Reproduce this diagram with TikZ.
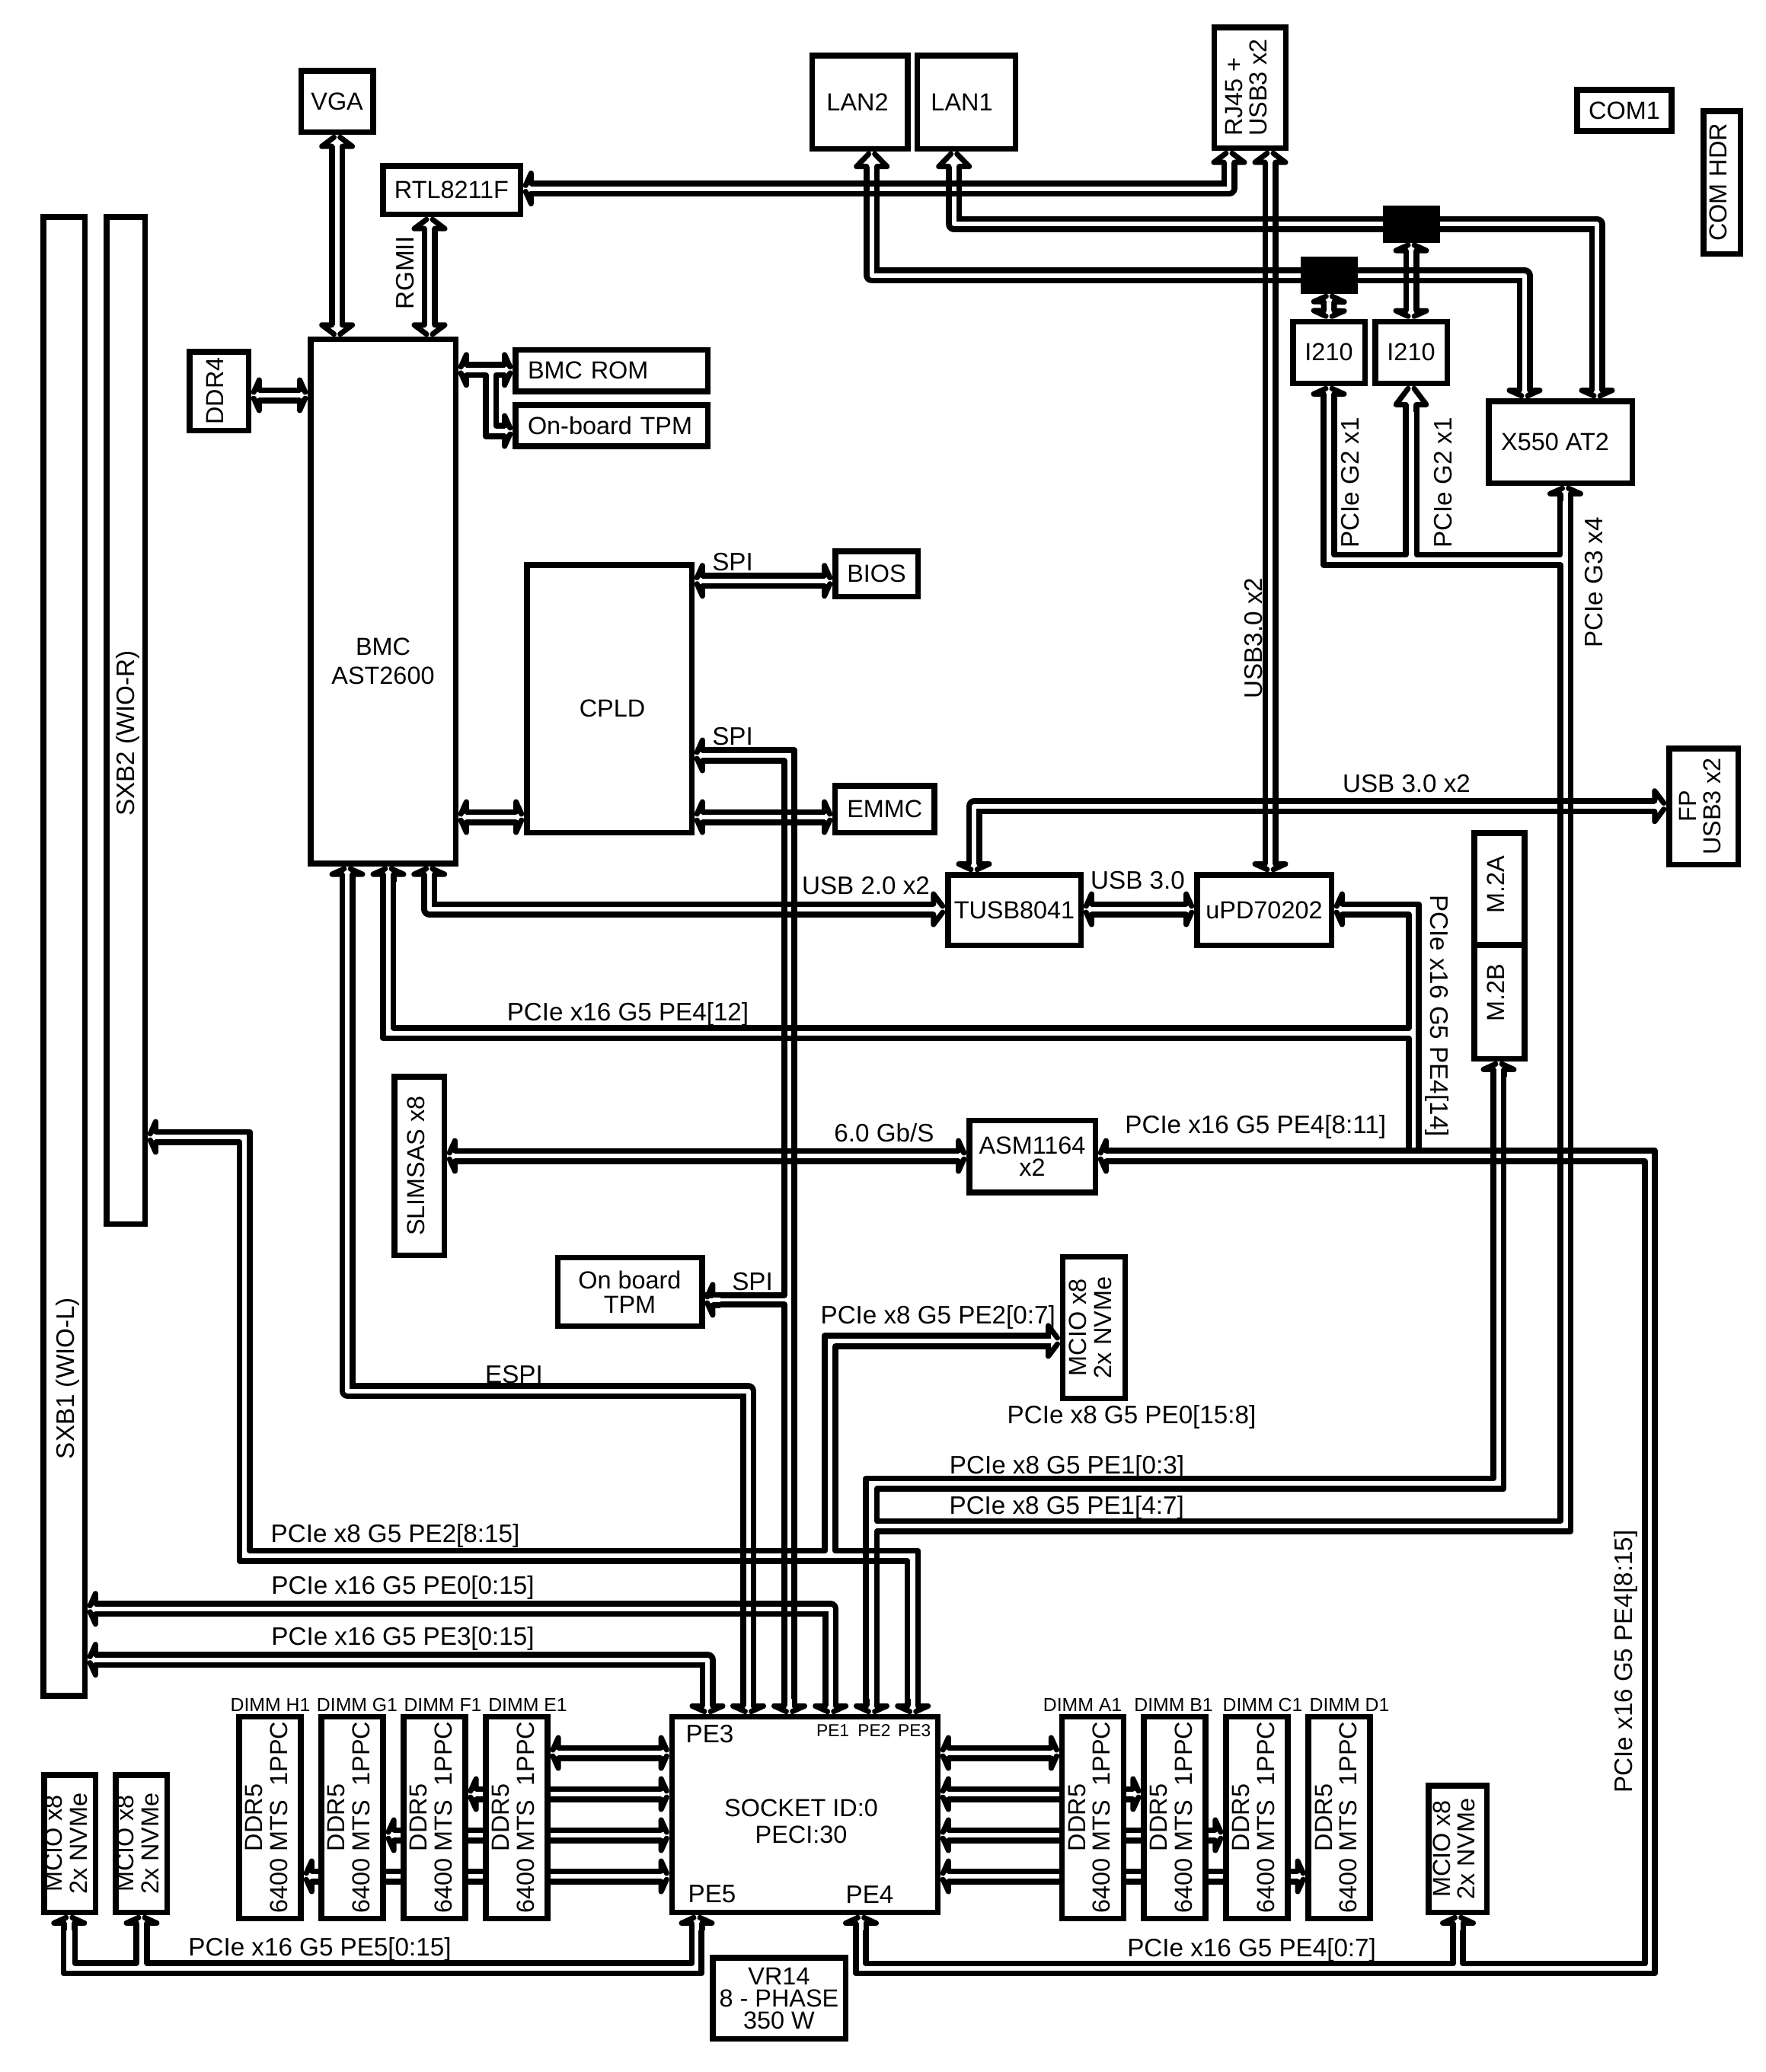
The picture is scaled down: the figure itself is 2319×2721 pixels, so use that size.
\documentclass[tikz,border=0pt]{standalone}
\usepackage{fontspec}
\setmainfont{Liberation Sans}
\usepackage{tikz}
\usetikzlibrary{arrows.meta, backgrounds}

\pgfdeclarearrow{
  name=Chevron,
  defaults={length=2.6pt, width=10pt, line width=1.75pt},
  parameters={\the\pgfarrowlength,\the\pgfarrowwidth,\the\pgfarrowlinewidth},
  setup code={
    \pgfarrowssettipend{0pt}
    \pgfarrowssetlineend{-\pgfarrowlength}
    \pgfarrowssetbackend{-\pgfarrowlength}
    \pgfarrowssetvisualbackend{-\pgfarrowlength}
    \pgfarrowshullpoint{0pt}{0pt}
    \pgfarrowsupperhullpoint{-\pgfarrowlength}{.5\pgfarrowwidth}
    \pgfarrowssavethe\pgfarrowlength
    \pgfarrowssavethe\pgfarrowwidth
    \pgfarrowssavethe\pgfarrowlinewidth
  },
  drawing code={
    \pgfsetdash{}{0pt}
    \pgfsetroundcap
    \pgfsetroundjoin
    \pgfsetlinewidth{\pgfarrowlinewidth}
    \pgfsetinnerlinewidth{0pt}
    \pgfpathmoveto{\pgfqpoint{-\pgfarrowlength}{1.7pt}}
    \pgfpathlineto{\pgfqpoint{-\pgfarrowlength}{.5\pgfarrowwidth}}
    \pgfpathlineto{\pgfqpoint{-.8pt}{1pt}}
    \pgfpathmoveto{\pgfqpoint{-\pgfarrowlength}{-1.7pt}}
    \pgfpathlineto{\pgfqpoint{-\pgfarrowlength}{-.5\pgfarrowwidth}}
    \pgfpathlineto{\pgfqpoint{-.8pt}{-1pt}}
    \pgfusepathqstroke
  },
}

\tikzset{
  bs/.tip={Chevron[length=2.6pt]},
  bm/.tip={Chevron[length=3.8pt]},
  bl/.tip={Chevron[length=4.9pt]},
  bx/.tip={Chevron[length=6.1pt]},
  block/.style={draw, fill=white, line width=1.875pt, inner sep=0pt, align=center,
    font=\fontsize{8.1pt}{8pt}\selectfont},
  box/.style 2 args={minimum width=(#1-7.5)*0.25pt, minimum height=(#2-7.5)*0.25pt},
  lab/.style={inner sep=0pt, align=center, font=\fontsize{8.3pt}{8pt}\selectfont},
  tiny/.style={inner sep=0pt, font=\fontsize{6.2pt}{7pt}\selectfont},
  bus/.style={line width=1.875pt, double, double distance=1.5pt, line join=round},
  rail/.style={line width=1.875pt, line join=round},
  railb/.style={rail, shorten <=3pt, shorten >=3pt},
}
\newcommand{\vtext}[1]{\rotatebox{90}{\begin{tabular}{@{}c@{}}#1\end{tabular}}}
\newcommand{\vtextl}[1]{\rotatebox{90}{\begin{tabular}{@{}l@{}}#1\end{tabular}}}

\begin{document}
\begin{tikzpicture}[x=0.25pt, y=-0.25pt]
\useasboundingbox (0,0) rectangle (2319,2721);
% top row
\node[block, box={102}{88}] (vga) at (442.6,133) {VGA};
\node[block, box={188}{71}] (rtl) at (593,249.5) {RTL8211F};
\node[block, box={133}{130}] (lan2) at (1129,134) {LAN2\hspace{1.5pt}};
\node[block, box={136.7}{130}] (lan1) at (1269,134) {LAN1\hspace{3pt}};
\node[block, box={101.4}{166}] (rj) at (1641.3,115) {\vtextl{RJ45 +\\USB3 x2}};
\node[block, box={131.7}{61.5}] (com1) at (2133,145) {COM1};
\node[block, box={56}{195}] (comhdr) at (2261,239.5) {\vtext{COM HDR}};
\node[draw, fill=black, line width=1.875pt, box={75}{48.6}] (switcha) at (1853,294.3) {};
\node[draw, fill=black, line width=1.875pt, box={75.4}{48.5}] (switchb) at (1745.3,361.7) {};
\node[block, box={102}{88.5}] (i210a) at (1745,462.75) {I210};
\node[block, box={102}{88.5}] (i210b) at (1853,462.75) {I210};
\node[block, box={196}{115}] (x550) at (2049,580.5) {X550 AT2\hspace{3.5pt}};
% BMC side
\node[block, box={198}{695.7}] (bmc) at (503,789.8) {};
\node[lab, font=\fontsize{8.1pt}{9.5pt}\selectfont] (bmclab) at (503,868) {BMC\\AST2600};
\node[block, box={260}{62}, text width=55pt, align=left] (rom) at (803,486.5) {BMC ROM};
\node[block, box={260}{61.5}, text width=55pt, align=left] (obtpm) at (803,558.75) {On-board TPM};
\node[block, box={85}{111}] (ddr4) at (287.5,513.5) {\vtext{DDR4}};
\node[block, box={224}{359}] (cpld) at (800,917.5) {};
\node[lab, font=\fontsize{8.1pt}{8pt}\selectfont] (cpldlab) at (804,930) {CPLD};
\node[block, box={116}{67}] (bios) at (1151,753.5) {BIOS};
\node[block, box={137.7}{69}] (emmc) at (1161.8,1062.5) {EMMC};
% USB, storage
\node[block, box={182}{100}] (tusb) at (1332,1195) {TUSB8041};
\node[block, box={184}{100}] (upd) at (1660,1195) {uPD70202};
\node[block, box={73.5}{155}] (mtwoa) at (1969,1167.5) {\vtext{\hspace{3pt}M.2A}};
\node[block, box={73.5}{157}] (mtwob) at (1969,1315.5) {\vtext{\hspace{6pt}M.2B}};
\node[block, box={98}{160}] (fp) at (2237,1059) {\vtext{FP\\USB3 x2}};
\node[block, box={73}{242}] (slimsas) at (550.5,1531) {\vtext{SLIMSAS x8}};
\node[block, box={173}{102}] (asm) at (1355.5,1518.5) {ASM1164\\[-.75pt]x2\hspace{10pt}};
\node[block, box={197}{97.3}] (tpm) at (827,1696.4) {On board\\TPM};
\node[block, box={89.3}{193.3}] (mcioa) at (1436.4,1743.4) {\vtext{MCIO x8\\2x NVMe}};
% risers
\node[block, box={62}{1949.7}] (sxbl) at (84,1255.9) {};
\node[block, box={58}{1330}] (sxbr) at (165,946) {};
\node[lab, rotate=90] (sxbllab) at (89,1810) {SXB1 (WIO-L)};
\node[lab, rotate=90] (sxbrlab) at (168,963) {SXB2 (WIO-R)};
% socket
\node[block, box={356.4}{264.3}] (socket) at (1056.8,2382.9) {};
\node[lab, font=\fontsize{8.1pt}{8.75pt}\selectfont] (socketlab) at (1052,2392) {SOCKET ID:0\\PECI:30};
\node[block, box={182}{114}] (vr) at (1023,2624) {VR14\\[-.75pt]8 - PHASE\\[-.75pt]350 W};
\node[lab] (pethree) at (932,2277) {PE3};
\node[lab] (pefive) at (935,2487.5) {PE5};
\node[lab] (pefour) at (1142,2488) {PE4};
\node[tiny, font=\fontsize{5.7pt}{7pt}\selectfont] (peone) at (1093.6,2273) {PE1};
\node[tiny, font=\fontsize{5.7pt}{7pt}\selectfont] (petwo) at (1148,2273) {PE2};
\node[tiny, font=\fontsize{5.7pt}{7pt}\selectfont] (pethreeb) at (1200.7,2273) {PE3};
% memory
\foreach \name/\x/\lx/\lab in {dimmh/354.7/355/H1, dimmg/462.5/469/G1, dimmf/570.5/581.5/F1, dimme/678.5/693/E1, dimma/1435/1421.6/A1, dimmb/1542.5/1541/B1, dimmc/1650.5/1658/C1, dimmd/1758.7/1772/D1} {
  \node[block, box={88.5}{272.3}] (\name) at (\x,2386.9) {\vtext{DDR5\\6400 MTS~~1PPC}};
  \node[tiny] (\name lab) at (\lx,2239) {DIMM \lab};
}
\node[block, box={75}{188}] (mciob) at (91.5,2421) {\vtext{MCIO x8\\2x NVMe}};
\node[block, box={75}{188}] (mcioc) at (185.5,2421) {\vtext{MCIO x8\\2x NVMe}};
\node[block, box={84}{174}] (mciod) at (1914,2428) {\vtext{MCIO x8\\2x NVMe}};
% bus labels
\node[lab, rotate=90] (rgmii) at (532,358.7) {RGMII};
\node[lab, rotate=90] (gtwoa) at (1773,634) {PCIe G2 x1};
\node[lab, rotate=90] (gtwob) at (1895,634) {PCIe G2 x1};
\node[lab, rotate=90] (gthree) at (2093,765) {PCIe G3 x4};
\node[lab, rotate=90] (usbv) at (1645.6,838) {USB3.0 x2};
\node[lab] (usbh) at (1847,1028.7) {USB 3.0 x2};
\node[lab] (usbthree) at (1494,1156) {USB 3.0};
\node[lab] (usbtwo) at (1137,1163) {USB 2.0 x2};
\node[lab] (spia) at (962,738) {SPI};
\node[lab] (spib) at (962,967) {SPI};
\node[lab] (spic) at (988,1682.7) {SPI};
\node[lab] (espi) at (675,1805) {ESPI};
\node[lab, rotate=-90] (pefourv) at (1886.6,1334) {PCIe x16 G5 PE4[14]};
\node[lab] (pefourh) at (824.5,1332) {PCIe x16 G5 PE4[12]};
\node[lab] (pefourm) at (1648.7,1480) {PCIe x16 G5 PE4[8:11]};
\node[lab] (gbps) at (1161,1487.6) {6.0 Gb/S};
\node[lab] (petwoa) at (1231.7,1730) {PCIe x8 G5 PE2[0:7]};
\node[lab] (pezerob) at (1486,1861) {PCIe x8 G5 PE0[15:8]};
\node[lab] (peonea) at (1401,1927) {PCIe x8 G5 PE1[0:3]};
\node[lab] (peoneb) at (1400.7,1979.5) {PCIe x8 G5 PE1[4:7]};
\node[lab] (petwob) at (519,2017) {PCIe x8 G5 PE2[8:15]};
\node[lab] (pezero) at (529,2085) {PCIe x16 G5 PE0[0:15]};
\node[lab] (pethreeh) at (529,2152) {PCIe x16 G5 PE3[0:15]};
\node[lab] (pefiveh) at (420,2560) {PCIe x16 G5 PE5[0:15]};
\node[lab] (pefourb) at (1643.6,2560.5) {PCIe x16 G5 PE4[0:7]};
\node[lab, rotate=90] (pefourr) at (2135,2182) {PCIe x16 G5 PE4[8:15]};

\begin{pgfonlayer}{background}
% plain buses
\draw[bus,bm-bm] (vga.south) -- (442.6,0 |- bmc.north);
\draw[bus,bm-bm] (564,0 |- rtl.south) -- (564,0 |- bmc.north);
\draw[bus,bs-bm] (rtl.east |- 0,247.5) -| (1614,0 |- rj.south);
\draw[bus,bm-bs] (1668,0 |- rj.south) -- (1668,0 |- upd.north);
\draw[bus,bl-bs] (1144.7,0 |- lan2.south) |- (2002,361.7) -- (2002,0 |- x550.north);
\draw[bus,bl-bs] (1252.7,0 |- lan1.south) |- (2097,294.3) -- (2097,0 |- x550.north);
\draw[bus,bs-bs] (switcha.south) -- (i210b.north);
\draw[bus,bs-bs] (switchb.south) -- (i210a.north);
\draw[bus,bs-bs] (ddr4.east |- 0,519) -- (bmc.west |- 0,519);
\draw[bus,bs-bs] (cpld.east |- 0,762.7) -- (bios.west |- 0,762.7);
\draw[bus,bs-bs] (cpld.east |- 0,1073) -- (emmc.west |- 0,1073);
\draw[bus,bs-bs] (bmc.east |- 0,1073) -- (cpld.west |- 0,1073);
\draw[bus,bs-bm] (563.7,0 |- bmc.south) |- (tusb.west |- 0,1194);
\draw[bus,bs-bs] (tusb.east |- 0,1194) -- (upd.west |- 0,1194);
\draw[bus,bs-bm] (1279,0 |- tusb.north) |- (fp.west |- 0,1058.7);
\draw[bus,bs-bs] (456,0 |- bmc.south) |- (982.5,1826.5) -- (982.5,0 |- socket.north);
\draw[bus,bs-bs] (slimsas.east |- 0,1518) -- (asm.west |- 0,1518);
\draw[bus,bs-bs] (sxbl.east |- 0,2112.7) -| (1090.7,0 |- socket.north);
\draw[bus,bs-bs] (sxbl.east |- 0,2179.5) -| (929,0 |- socket.north);
% crossings of two buses show all four lines
\foreach \x/\y in {1668/294.3, 1668/361.7, 1668/1058.7, 1144.7/247.5, 1252.7/247.5, 1853/361.7, 982.5/2112.7} {
  \draw[rail] (\x-11,\y-6.75) -- (\x+11,\y-6.75) (\x-11,\y+6.75) -- (\x+11,\y+6.75);
  \draw[rail] (\x-6.75,\y-11) -- (\x-6.75,\y+11) (\x+6.75,\y-11) -- (\x+6.75,\y+11);
}
% memory channels
\foreach \name/\y in {dimme/2302, dimmf/2356, dimmg/2410, dimmh/2464} {
  \draw[bus,bs-bs] (socket.west |- 0,\y) -- (\name.east |- 0,\y);
}
\foreach \name/\y in {dimma/2302, dimmb/2356, dimmc/2410, dimmd/2464} {
  \draw[bus,bs-bs] (socket.east |- 0,\y) -- (\name.west |- 0,\y);
}
% BMC ROM / TPM split
\draw[railb] (bmc.east |- 0,479) -- (rom.west |- 0,479);
\draw[railb] (bmc.east |- 0,492.6) -| (638,573) -- (obtpm.west |- 0,573);
\draw[railb] (rom.west |- 0,492.6) -| (651.7,559) -- (obtpm.west |- 0,559);
\draw[bus,bs-] (bmc.east |- 0,485.8) -- ++(20,0);
\draw[bus,bs-] (rom.west |- 0,485.8) -- ++(-20,0);
\draw[bus,bs-] (obtpm.west |- 0,566) -- ++(-20,0);
% SPI to CPLD and TPM
\draw[railb] (cpld.east |- 0,985) -| (1043,0 |- socket.north);
\draw[rail, shorten <=3pt] (cpld.east |- 0,999) -| (1030,1701) -- (tpm.east |- 0,1701);
\draw[railb] (tpm.east |- 0,1713) -| (1030,0 |- socket.north);
\draw[bus,bs-] (cpld.east |- 0,992) -- ++(20,0);
\draw[bus,bs-] (tpm.east |- 0,1707) -- ++(20,0);
\draw[bus,bs-] (1036.5,0 |- socket.north) -- ++(0,-20);
% PE4 to BMC, uPD and ASM
\draw[railb] (516.7,0 |- bmc.south) |- (1850,1350) -- (1850,1201) -- (upd.east |- 0,1201);
\draw[rail, shorten <=3pt] (503,0 |- bmc.south) |- (1850,1363.6) -- (1850,1511);
\draw[rail, shorten <=3pt] (upd.east |- 0,1187.5) -| (1863,1511);
\draw[bus,bs-] (510,0 |- bmc.south) -- ++(0,20);
\draw[bus,bs-] (upd.east |- 0,1194) -- ++(20,0);
\draw[railb] (1921,0 |- mciod.south) |- (2160,2578.7) -- (2160,1525) -- (asm.east |- 0,1525);
\draw[railb] (asm.east |- 0,1511) -| (2173,2591.5) -| (1124,0 |- socket.south);
\draw[railb] (1137,0 |- socket.south) |- (1908,2578.7) -- (1908,0 |- mciod.south);
\draw[bus,bs-] (asm.east |- 0,1518) -- ++(20,0);
\draw[bus,bs-] (1130.5,0 |- socket.south) -- ++(0,20);
\draw[bus,bs-] (1914.5,0 |- mciod.south) -- ++(0,20);
% PE5
\draw[railb] (83.3,0 |- mciob.south) |- (921,2591.7) -- (921,0 |- socket.south);
\draw[railb] (98.3,0 |- mciob.south) |- (179,2578) -- (179,0 |- mcioc.south);
\draw[railb] (193,0 |- mcioc.south) |- (908.7,2578) -- (908.7,0 |- socket.south);
\draw[bus,bs-] (90.8,0 |- mciob.south) -- ++(0,20);
\draw[bus,bs-] (186,0 |- mcioc.south) -- ++(0,20);
\draw[bus,bs-] (915,0 |- socket.south) -- ++(0,20);
% PE2
\draw[railb] (mcioa.west |- 0,1754) -- (1083,1754) -- (1083,2036.7) -- (328,2036.7) -- (328,1486.5) -- (sxbr.east |- 0,1486.5);
\draw[railb] (mcioa.west |- 0,1768) -- (1097,1768) -- (1097,2036.7) -- (1205.7,2036.7) -- (1205.7,0 |- socket.north);
\draw[railb] (1191.7,0 |- socket.north) -- (1191.7,2050) -- (314.7,2050) -- (314.7,1500) -- (sxbr.east |- 0,1500);
\draw[bus,bm-] (mcioa.west |- 0,1761) -- ++(-24,0);
\draw[bus,bs-] (sxbr.east |- 0,1493) -- ++(20,0);
\draw[bus,bs-] (1198.7,0 |- socket.north) -- ++(0,-20);
% PE1 and the I210 / X550 feeds
\draw[railb] (1137,0 |- socket.north) |- (1961,1941.7) -- (1961,0 |- mtwob.south);
\draw[railb] (1738,0 |- i210a.south) |- (2049,742) -- (2049,1997.6) -- (1151.7,1997.6) -- (1151.7,1955) -- (1974.6,1955) -- (1974.6,0 |- mtwob.south);
\draw[railb] (2062.5,0 |- x550.south) |- (1151.7,2011) -- (1151.7,0 |- socket.north);
\draw[railb, shorten >=7pt] (1751.8,0 |- i210a.south) |- (1846,728.7) -- (1846,0 |- i210b.south);
\draw[railb, shorten <=7pt] (1860.7,0 |- i210b.south) |- (2048.7,728.7) -- (2048.7,0 |- x550.south);
\draw[bus,bs-] (1745,0 |- i210a.south) -- ++(0,20);
\draw[bus,bx-] (1853,0 |- i210b.south) -- ++(0,34);
\draw[bus,bs-] (2055.5,0 |- x550.south) -- ++(0,20);
\draw[bus,bs-] (1144.5,0 |- socket.north) -- ++(0,-20);
\draw[bus,bs-] (1968,0 |- mtwob.south) -- ++(0,20);
\end{pgfonlayer}
\end{tikzpicture}
\end{document}
